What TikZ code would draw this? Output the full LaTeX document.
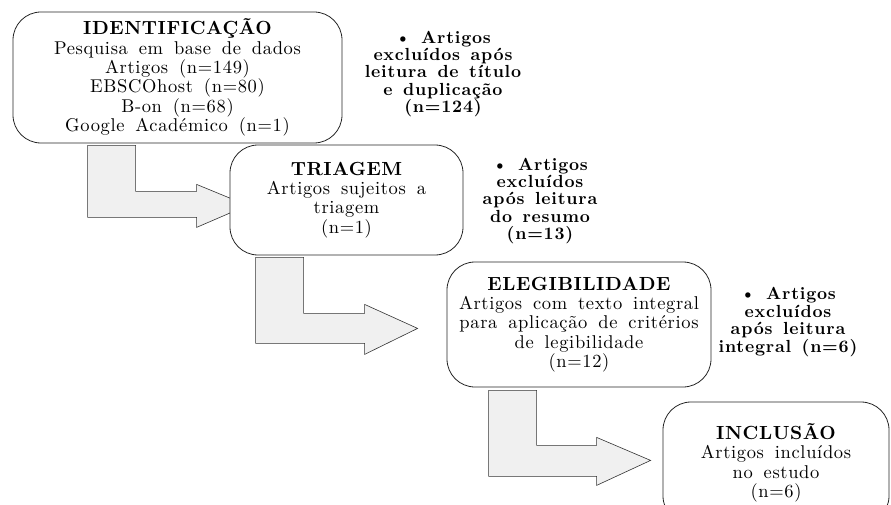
\documentclass[tikz,border=0pt]{standalone}
\usepackage{fontspec}
\newfontfamily\bodyfont{lmroman10-regular.otf}[LetterSpace=3.5,WordSpace=1.6]
\newfontfamily\titlefont{lmroman10-bold.otf}[LetterSpace=3]
\newfontfamily\notefont{lmroman10-bold.otf}[LetterSpace=4.5,WordSpace=1.4]
\usetikzlibrary{positioning,backgrounds}
\tikzset{
	stage/.style={
		rectangle,
		rounded corners=28pt,
		draw=black!85,
		line width=0.8pt,
		fill=white,
		align=center,
		font=\bodyfont\fontsize{18.5}{19.3}\selectfont
	}
}
\newcommand{\stagetitle}[1]{{\titlefont\fontsize{19}{19.3}\selectfont #1}}

\begin{document}
\begin{tikzpicture}[x=1pt,y=-1pt]
		\tikzstyle{note}=[align=center, font=\notefont\fontsize{17.5}{17.4}\selectfont, inner sep=0pt]
		\tikzstyle{blockarrow}=[draw=black!80, line width=0.6pt, fill=black!6, line join=miter]
		\clip (0,0) rectangle (891,505);
		
		% the stage boxes
		\node[stage, minimum width=329pt, minimum height=131pt] (ident) at (177.5,77.5) {\stagetitle{IDENTIFICAÇÃO}\\Pesquisa em base de dados\\Artigos (n=149)\\EBSCOhost (n=80)\\B-on (n=68)\\Google Académico (n=1)};
		\node[stage, minimum width=233pt, minimum height=110pt] (triag) at (346.5,200) {\stagetitle{TRIAGEM}\\Artigos sujeitos a\\triagem\\(n=1)};
		\node[stage, minimum width=264pt, minimum height=125pt] (eleg) at (579,324.5) {\stagetitle{ELEGIBILIDADE}\\Artigos com texto integral\\para aplicação de critérios\\de legibilidade\\(n=12)};
		\node[stage, minimum width=226pt, minimum height=122pt] (incl) at (776,463) {\stagetitle{INCLUSÃO}\\Artigos incluídos\\no estudo\\(n=6)};
		
		% excluded articles
		\node[note] (excl1) at (443,74) {• Artigos\\excluídos após\\leitura de título\\e duplicação\\(n=124)};
		\node[note] (excl2) at (540,201) {• Artigos\\excluídos\\após leitura\\do resumo\\(n=13)};
		\node[note] (excl3) at (788,322) {• Artigos\\excluídos\\após leitura\\integral (n=6)};
		
		% bent arrows between the stages
		\begin{pgfonlayer}{background}
		\draw[blockarrow] ([xshift=75pt,yshift=-2pt]ident.south west) -- ++(48,0) -- ++(0,46) -- ++(61,0) -- ++(0,-7) -- ++(51,21) -- ++(-51,22) -- ++(0,-10) -- ++(-109,0) -- cycle;
		\draw[blockarrow] ([xshift=26pt,yshift=-2pt]triag.south west) -- ++(48,0) -- ++(0,56) -- ++(61,0) -- ++(0,-9) -- ++(53,24) -- ++(-53,26) -- ++(0,-11) -- ++(-109,0) -- cycle;
		\draw[blockarrow] ([xshift=42pt,yshift=-3pt]eleg.south west) -- ++(48,0) -- ++(0,55) -- ++(60,0) -- ++(0,-8) -- ++(54,23) -- ++(-54,25) -- ++(0,-9) -- ++(-108,0) -- cycle;
		\end{pgfonlayer}
\end{tikzpicture}
\end{document}
